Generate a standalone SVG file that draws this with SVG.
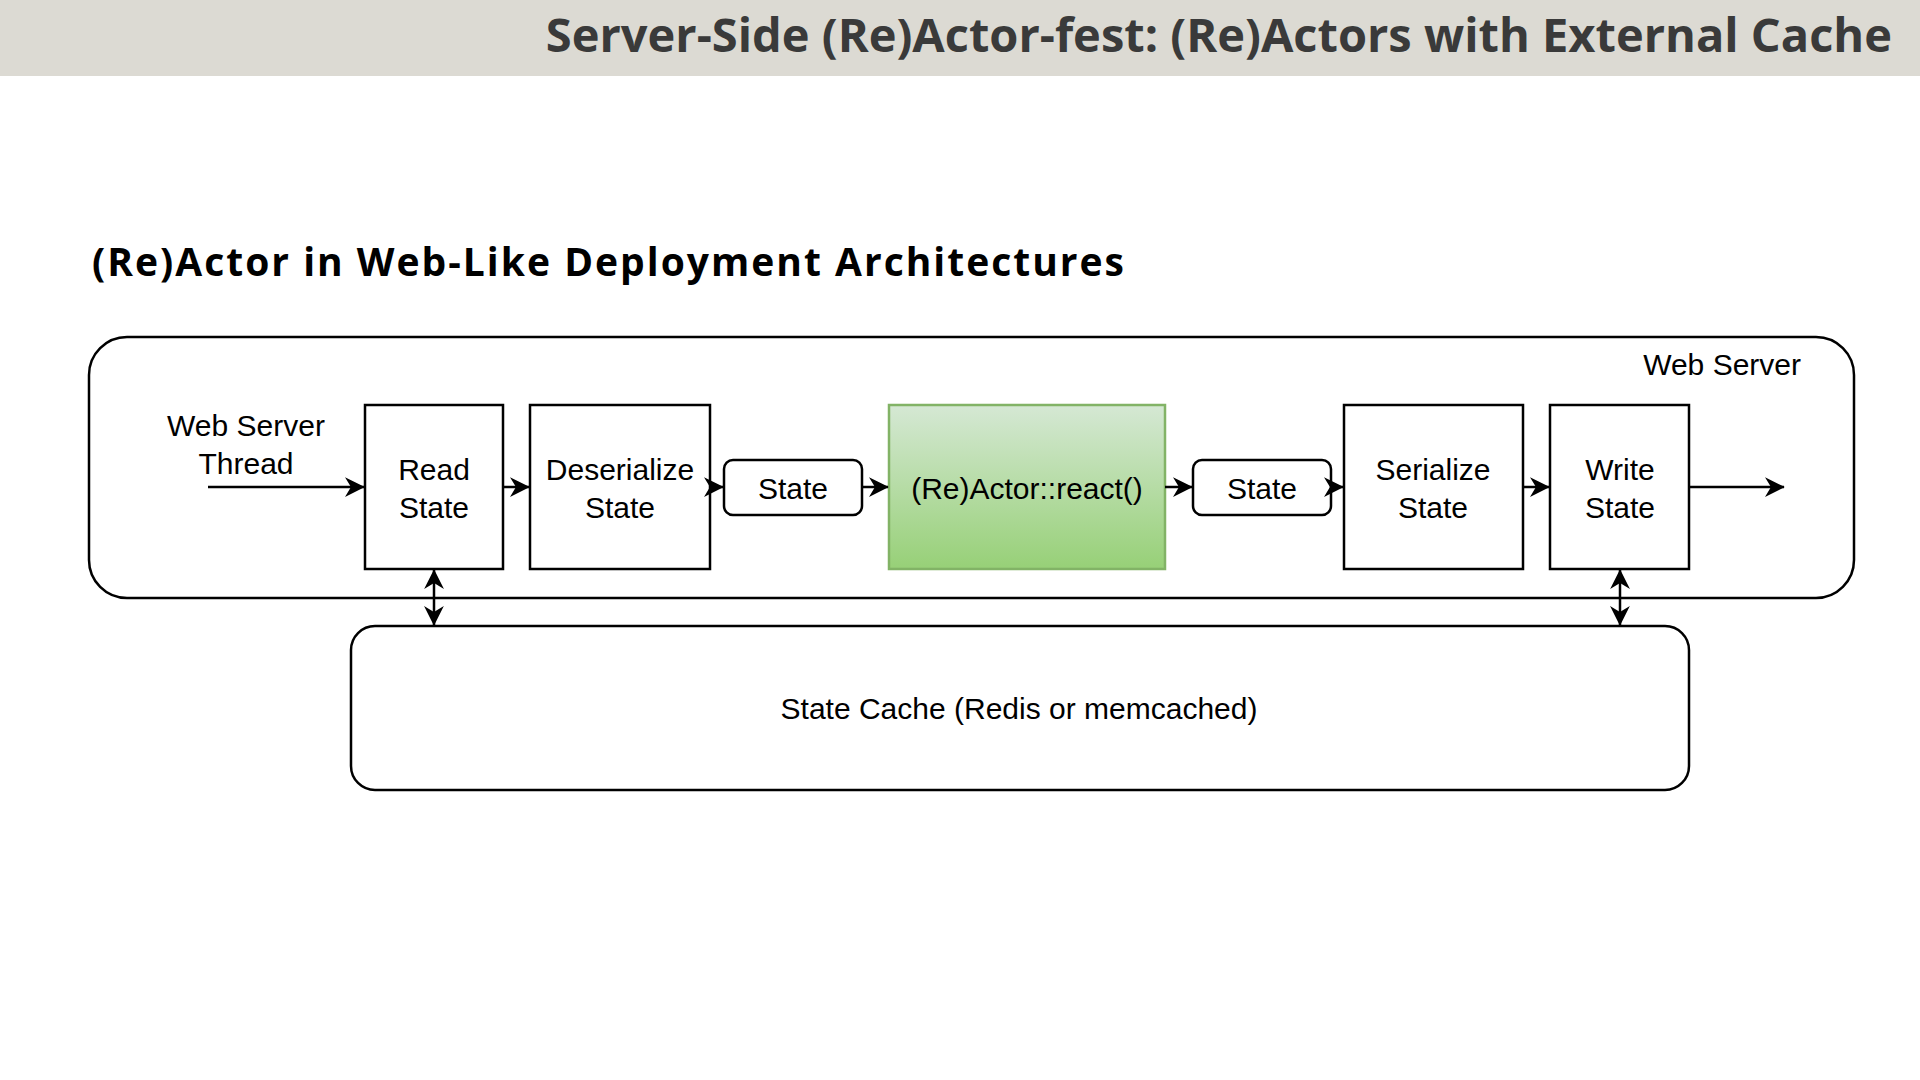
<svg xmlns="http://www.w3.org/2000/svg" width="1920" height="1080" viewBox="0 0 1920 1080">
<style>
.t{font-family:"Liberation Sans",Arial,sans-serif;font-size:30px;fill:#000;text-anchor:middle}
.b{fill:#fff;stroke:#000;stroke-width:2.5}
.c{stroke:#000;stroke-width:2.5;fill:none}
</style>
<defs>
<marker id="a" viewBox="0 0 10 10" refX="9" refY="5" markerWidth="9" markerHeight="9" orient="auto-start-reverse" markerUnits="userSpaceOnUse" style="overflow:visible">
<path d="M0,0 L10,5 L0,10 L3,5 Z" fill="#000" transform="scale(2.2) translate(-5.5,-2.7)"/>
</marker>
<linearGradient id="g" x1="0" y1="0" x2="0" y2="1"><stop offset="0" stop-color="#d5e8d4"/><stop offset="1" stop-color="#97d077"/></linearGradient>
</defs>
<rect width="1920" height="1080" fill="#fff"/>
<rect width="1920" height="76" fill="#dcdad3"/>
<text x="1892" y="52" font-family="'Open Sans','Liberation Sans',sans-serif" font-weight="bold" font-size="47" fill="#3a3a3a" text-anchor="end">Server-Side (Re)Actor-fest: (Re)Actors with External Cache</text>
<text x="92" y="276" font-family="'Open Sans','Liberation Sans',sans-serif" font-weight="bold" font-size="39" fill="#000" textLength="1032">(Re)Actor in Web-Like Deployment Architectures</text>
<g id="webserver"><rect class="b" x="89" y="337" width="1765" height="261" rx="38"/><text class="t" x="1801" y="375" text-anchor="end" style="text-anchor:end">Web Server</text></g>
<g id="thread"><text class="t" x="246" y="436">Web Server</text><text class="t" x="246" y="474">Thread</text></g>
<g id="read"><rect class="b" x="365" y="405" width="138" height="164"/><text class="t" x="434" y="480">Read</text><text class="t" x="434" y="518">State</text></g>
<g id="deser"><rect class="b" x="530" y="405" width="180" height="164"/><text class="t" x="620" y="480">Deserialize</text><text class="t" x="620" y="518">State</text></g>
<g id="state1"><rect class="b" x="724" y="460" width="138" height="55" rx="9"/><text class="t" x="793" y="499">State</text></g>
<g id="react"><rect x="889" y="405" width="276" height="164" fill="url(#g)" stroke="#82b366" stroke-width="2.5"/><text class="t" x="1027" y="499">(Re)Actor::react()</text></g>
<g id="state2"><rect class="b" x="1193" y="460" width="138" height="55" rx="9"/><text class="t" x="1262" y="499">State</text></g>
<g id="ser"><rect class="b" x="1344" y="405" width="179" height="164"/><text class="t" x="1433" y="480">Serialize</text><text class="t" x="1433" y="518">State</text></g>
<g id="write"><rect class="b" x="1550" y="405" width="139" height="164"/><text class="t" x="1620" y="480">Write</text><text class="t" x="1620" y="518">State</text></g>
<g id="cache"><rect class="b" x="351" y="626" width="1338" height="164" rx="24"/><text class="t" x="1019" y="719">State Cache (Redis or memcached)</text></g>
<g id="connectors">
<path class="c" marker-end="url(#a)" d="M208 487H364"/>
<path class="c" marker-end="url(#a)" d="M503 487H529"/>
<path class="c" marker-end="url(#a)" d="M710 487H723"/>
<path class="c" marker-end="url(#a)" d="M862 487H888"/>
<path class="c" marker-end="url(#a)" d="M1165 487H1192"/>
<path class="c" marker-end="url(#a)" d="M1331 487H1343"/>
<path class="c" marker-end="url(#a)" d="M1523 487H1549"/>
<path class="c" marker-end="url(#a)" d="M1689 487H1784"/>
<path class="c" marker-start="url(#a)" marker-end="url(#a)" d="M434 570V625"/>
<path class="c" marker-start="url(#a)" marker-end="url(#a)" d="M1620 570V625"/>
</g>
</svg>
